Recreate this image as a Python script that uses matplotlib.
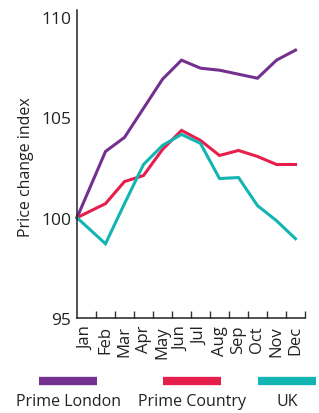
import numpy as np
import matplotlib
matplotlib.use("Agg")
import matplotlib.pyplot as plt
from matplotlib.lines import Line2D

months = ["Jan", "Feb", "Mar", "Apr", "May", "Jun", "Jul", "Aug", "Sep", "Oct", "Nov", "Dec"]
prime_london = [100.0, 103.3, 104.0, 105.45, 106.9, 107.85, 107.45, 107.35, 107.15, 106.95, 107.85, 108.35]
prime_country = [100.0, 100.7, 101.8, 102.1, 103.4, 104.35, 103.85, 103.1, 103.35, 103.05, 102.65, 102.65]
uk = [100.0, 98.7, 100.7, 102.65, 103.6, 104.15, 103.7, 101.95, 102.0, 100.6, 99.85, 98.95]
y_ticks = [95, 100, 105, 110]
series_names = ["Prime London", "Prime Country", "UK"]
colors = ["#74308f", "#e61e4b", "#12b5b1"]

plt.rcParams['font.family'] = ['Open Sans', 'DejaVu Sans']

fig = plt.figure(figsize=(3.19, 4.14), dpi=100)
ax = fig.add_axes([77/319, 1-319/414, (305-77)/319, (319-11)/414])

x = np.arange(len(months), dtype=float)
x_line = x.copy()
x_line[0] = -0.5  # first point drawn on the axis

for vals, c in zip([prime_london, prime_country, uk], colors):
    ax.plot(x_line, vals, color=c, lw=2.2, solid_joinstyle='miter', clip_on=False)

ax.set_xlim(-0.5, len(months) - 0.5)
ax.set_ylim(95, 110.35)
ax.set_yticks(y_ticks)
ax.set_yticklabels([str(t) for t in y_ticks], fontsize=12.5, color="#222222")
ax.tick_params(axis='y', length=0, pad=4)

ax.set_xticks(np.arange(len(months)) + 0.5)
ax.set_xticklabels([])
ax.tick_params(axis='x', which='major', direction='in', length=5, width=1.0, color="#333333")
ax.set_xticks(x, minor=True)
ax.set_xticklabels(months, minor=True, rotation=90, fontsize=12, color="#222222")
ax.tick_params(axis='x', which='minor', length=0, pad=5)

for s in ['top', 'right']:
    ax.spines[s].set_visible(False)
for s in ['left', 'bottom']:
    ax.spines[s].set_linewidth(1.1)
    ax.spines[s].set_color("#222222")

fig.text(26/319, 1-167/414, "Price change index", rotation=90, ha='center', va='center',
         fontsize=11.5, color="#222222")

# legend
centers = [68, 192, 287]
for name, c, cx in zip(series_names, colors, centers):
    fig.add_artist(Line2D([(cx-29)/319, (cx+29)/319], [1-382/414, 1-382/414],
                          color=c, lw=6, solid_capstyle='butt', transform=fig.transFigure))
    fig.text(cx/319, 1-402/414, name, ha='center', va='center', fontsize=11.5, color="#222222")

fig.savefig("out.png", dpi=100)
